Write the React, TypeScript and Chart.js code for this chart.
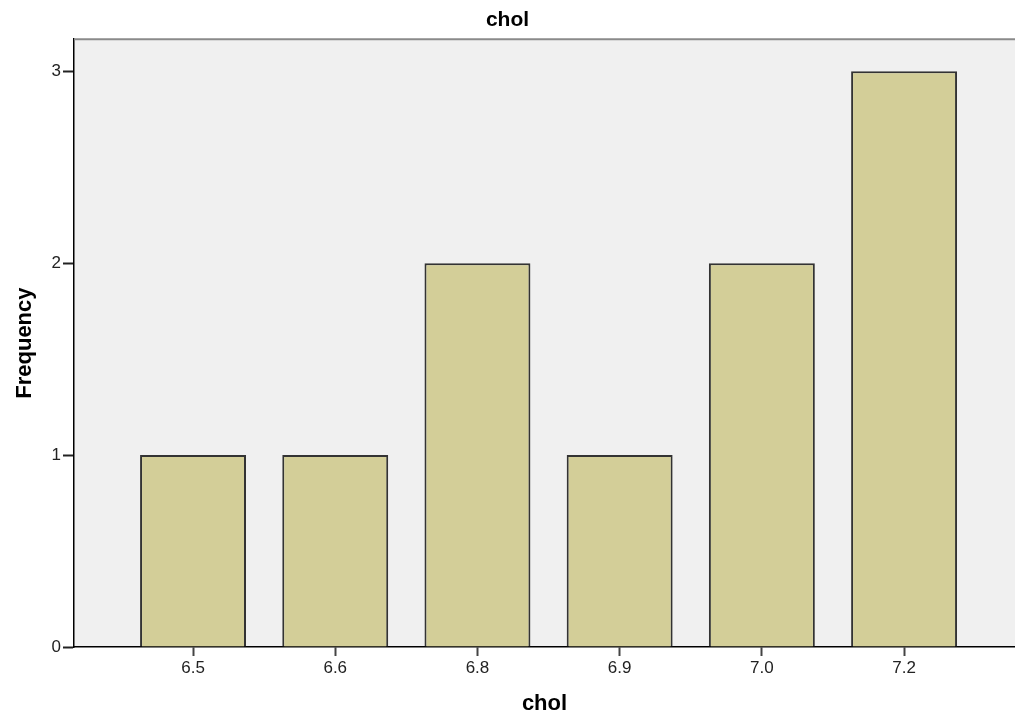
import React, { useEffect, useRef } from "react";
import { Chart, registerables } from "chart.js";

Chart.register(...registerables);

const categories = ["6.5", "6.6", "6.8", "6.9", "7.0", "7.2"];
const frequencies = [1, 1, 2, 1, 2, 3];
const yTicks = [0, 1, 2, 3];
const titleText = "chol";
const xTitle = "chol";
const yTitle = "Frequency";

const FONT = "'Liberation Sans', Arial, sans-serif";

const bgPlugin = {
  id: "spssBg",
  beforeDraw(chart: any) {
    const { ctx, chartArea } = chart;
    if (!chartArea) return;
    ctx.save();
    ctx.fillStyle = "#f0f0f0";
    ctx.fillRect(chartArea.left, chartArea.top, chartArea.right - chartArea.left, chartArea.bottom - chartArea.top);
    ctx.restore();
  },
  afterDraw(chart: any) {
    const { ctx, chartArea } = chart;
    if (!chartArea) return;
    ctx.save();
    ctx.strokeStyle = "#8a8a8a";
    ctx.lineWidth = 2;
    ctx.beginPath();
    ctx.moveTo(chartArea.left, chartArea.top);
    ctx.lineTo(chartArea.right, chartArea.top);
    ctx.stroke();
    ctx.restore();
  },
};

export default function App() {
  const ref = useRef<HTMLCanvasElement | null>(null);
  useEffect(() => {
    if (!ref.current) return;
    const chart = new Chart(ref.current, {
      type: "bar",
      data: {
        datasets: [
          {
            data: frequencies.map((v, i) => ({ x: i, y: v })),
            backgroundColor: "#d3ce98",
            borderColor: "#333333",
            borderWidth: 2,
            borderSkipped: "bottom",
            categoryPercentage: 1,
            barPercentage: 0.745,
          },
        ],
      },
      plugins: [bgPlugin],
      options: {
        animation: false,
        responsive: true,
        maintainAspectRatio: false,
        layout: { padding: 0 },
        plugins: {
          legend: { display: false },
          tooltip: { enabled: false },
          title: {
            display: true,
            text: titleText,
            color: "#000",
            font: { family: FONT, size: 21, weight: "bold" },
            padding: { top: 8, bottom: 6 },
          },
        },
        scales: {
          x: {
            type: "linear",
            min: -0.837,
            max: 5.78,
            offset: false,
            afterFit(scale: any) {
              scale.height = 72;
            },
            afterBuildTicks(scale: any) {
              scale.ticks = categories.map((_, i) => ({ value: i }));
            },
            ticks: {
              autoSkip: false,
              maxRotation: 0,
              color: "#222",
              padding: 2,
              font: { family: FONT, size: 17 },
              callback: (v: any) => categories[Number(v)] ?? "",
            },
            grid: {
              offset: false,
              drawOnChartArea: false,
              drawTicks: true,
              tickLength: 9,
              tickColor: "#444",
              tickWidth: 2,
            },
            border: { display: true, color: "#000", width: 1.5 },
            title: {
              display: true,
              text: xTitle,
              color: "#000",
              font: { family: FONT, size: 22, weight: "bold" },
              padding: { top: 0, bottom: 2 },
            },
          },
          y: {
            type: "linear",
            min: 0,
            max: 3.167,
            afterFit(scale: any) {
              scale.width = 74;
            },
            afterBuildTicks(scale: any) {
              scale.ticks = yTicks.map((v) => ({ value: v }));
            },
            ticks: {
              color: "#222",
              padding: 2,
              font: { family: FONT, size: 17 },
            },
            grid: {
              drawOnChartArea: false,
              drawTicks: true,
              tickLength: 11,
              tickColor: "#222",
              tickWidth: 2,
            },
            border: { display: true, color: "#000", width: 1.5 },
            title: {
              display: true,
              text: yTitle,
              color: "#000",
              font: { family: FONT, size: 22, weight: "bold" },
              padding: { top: 12, bottom: 0 },
            },
          },
        },
      },
    } as any);
    return () => chart.destroy();
  }, []);
  return (
    <div style={{ position: "fixed", left: 0, top: 0, width: 1015, height: 719, background: "#fff" }}>
      <canvas ref={ref} />
    </div>
  );
}
